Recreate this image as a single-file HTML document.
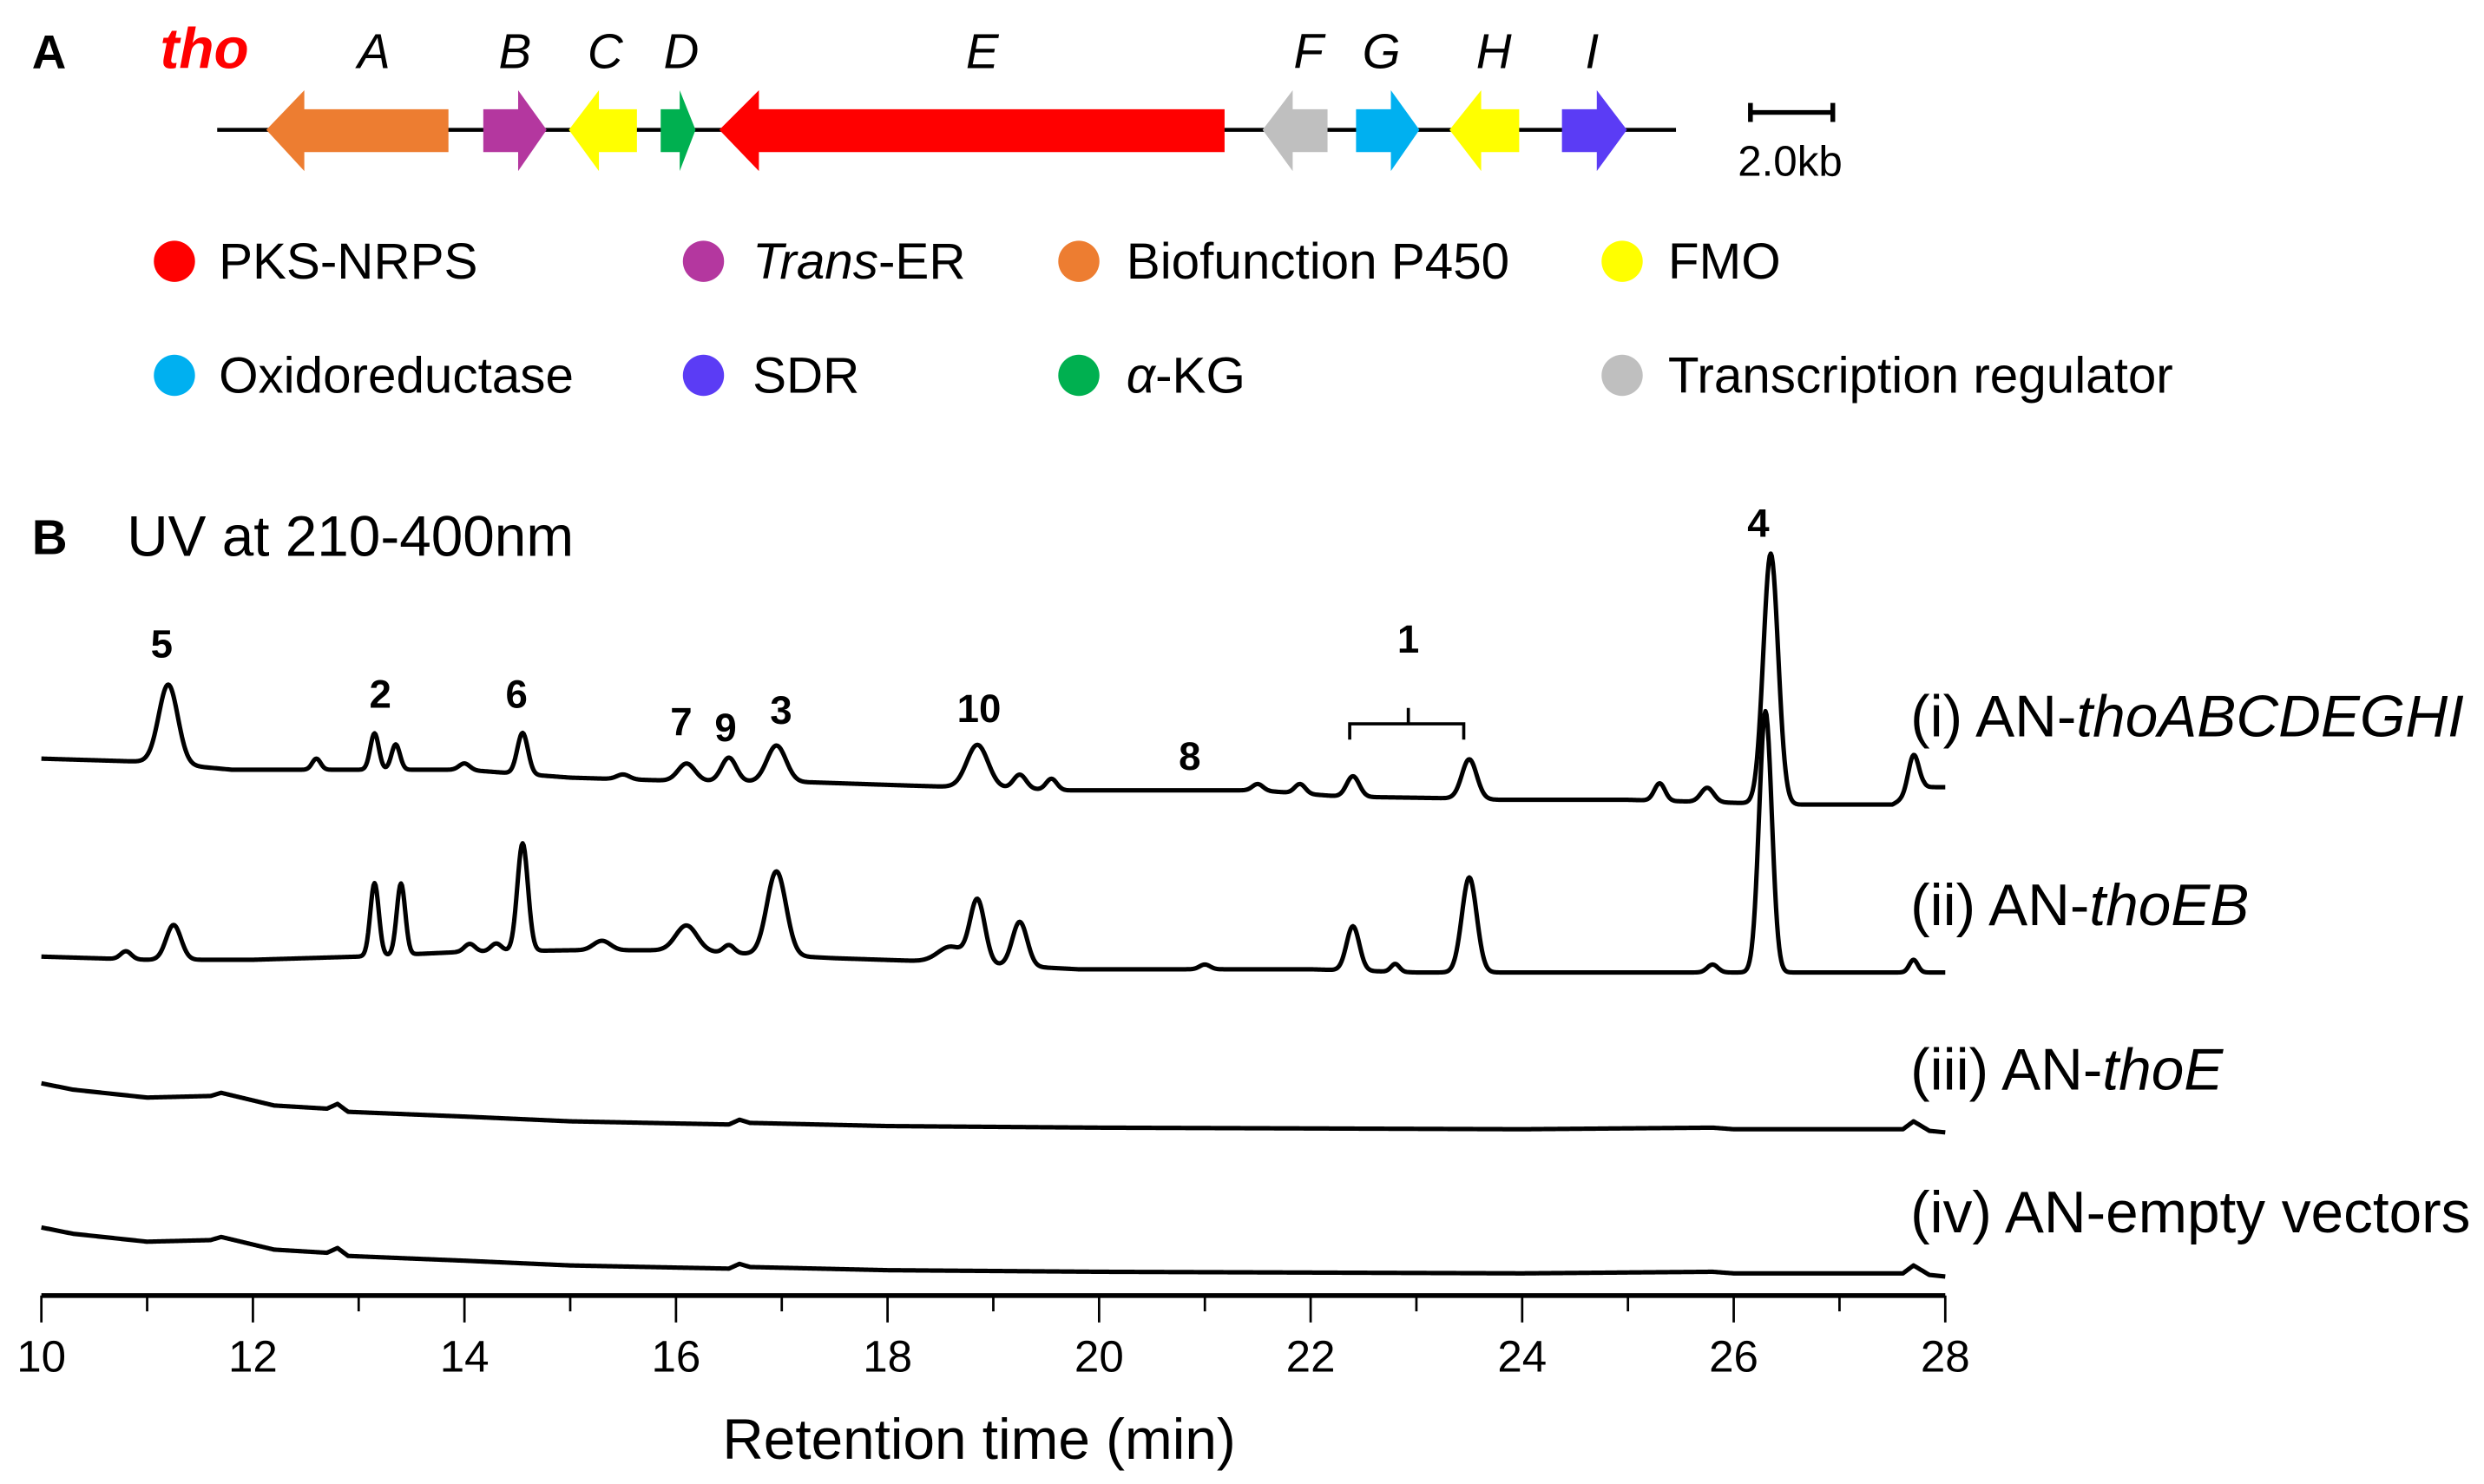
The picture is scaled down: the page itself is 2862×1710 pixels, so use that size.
<!DOCTYPE html>
<html><head><meta charset="utf-8"><style>
html,body{margin:0;padding:0;background:#fff;}
svg{display:block;font-family:"Liberation Sans",Arial,sans-serif;}
</style></head><body>
<svg id="fig" width="2862" height="1710" viewBox="0 0 1568 937" xmlns="http://www.w3.org/2000/svg">
<rect width="1568" height="937" fill="#fff"/>
<g>
<text x="20" y="43" font-size="30" font-weight="bold">A</text>
<text x="101" y="43" font-size="36" font-weight="bold" font-style="italic" fill="#ff0000">tho</text>
<g font-size="31" font-style="italic" text-anchor="middle">
<text x="236" y="43">A</text>
<text x="325" y="43">B</text>
<text x="382" y="43">C</text>
<text x="430" y="43">D</text>
<text x="620" y="43">E</text>
<text x="826" y="43">F</text>
<text x="872" y="43">G</text>
<text x="943" y="43">H</text>
<text x="1005" y="43">I</text>
</g>
<line x1="137" y1="82" x2="1058" y2="82" stroke="#000" stroke-width="2.5"/>
<polygon fill="#ed7d31" points="168,82 192,57 192,69 283,69 283,96 192,96 192,108"/>
<polygon fill="#b4379f" points="305,69 327,69 327,57 345,82 327,108 327,96 305,96"/>
<polygon fill="#ffff00" points="359,82 378,57 378,69 402,69 402,96 378,96 378,108"/>
<polygon fill="#00b050" points="417,69 429,69 429,57 439,82 429,108 429,96 417,96"/>
<polygon fill="#ff0000" points="454,82 479,57 479,69 773,69 773,96 479,96 479,108"/>
<polygon fill="#bfbfbf" points="797,82 816,57 816,69 838,69 838,96 816,96 816,108"/>
<polygon fill="#00b0f0" points="856,69 878,69 878,57 896,82 878,108 878,96 856,96"/>
<polygon fill="#ffff00" points="915,82 935,57 935,69 959,69 959,96 935,96 935,108"/>
<polygon fill="#5b3cf5" points="986,69 1008,69 1008,57 1027,82 1008,108 1008,96 986,96"/>
<g stroke="#000" stroke-width="3">
<line x1="1105" y1="71" x2="1157" y2="71"/><line x1="1105" y1="65" x2="1105" y2="77"/><line x1="1157" y1="65" x2="1157" y2="77"/>
</g>
<text x="1097" y="111" font-size="27">2.0kb</text>
<g font-size="32">
<circle cx="110" cy="165" r="13" fill="#ff0000"/><text x="138" y="176">PKS-NRPS</text>
<circle cx="444" cy="165" r="13" fill="#b4379f"/><text x="475" y="176"><tspan font-style="italic">Trans</tspan>-ER</text>
<circle cx="681" cy="165" r="13" fill="#ed7d31"/><text x="711" y="176">Biofunction  P450</text>
<circle cx="1024" cy="165" r="13" fill="#ffff00"/><text x="1053" y="176">FMO</text>
<circle cx="110" cy="237" r="13" fill="#00b0f0"/><text x="138" y="248">Oxidoreductase</text>
<circle cx="444" cy="237" r="13" fill="#5b3cf5"/><text x="475" y="248">SDR</text>
<circle cx="681" cy="237" r="13" fill="#00b050"/><text x="711" y="248"><tspan font-style="italic">α</tspan>-KG</text>
<circle cx="1024" cy="237" r="13" fill="#bfbfbf"/><text x="1053" y="248">Transcription  regulator</text>
</g>
</g>
<g>
<text x="20" y="350" font-size="31" font-weight="bold">B</text>
<text x="80" y="351" font-size="36">UV at 210-400nm</text>
<g id="traces"></g>
<g id="xaxis"></g>
<text x="618" y="921" font-size="36" text-anchor="middle">Retention time (min)</text>
<g font-size="37">
<text x="1206" y="465">(i) AN-<tspan font-style="italic">thoABCDEGHI</tspan></text>
<text x="1206" y="584">(ii) AN-<tspan font-style="italic">thoEB</tspan></text>
<text x="1206" y="688">(iii) AN-<tspan font-style="italic">thoE</tspan></text>
<text x="1206" y="778">(iv) AN-empty vectors</text>
</g>
<g font-size="25" font-weight="bold" text-anchor="middle">
<text x="102" y="415">5</text>
<text x="240" y="447">2</text>
<text x="326" y="447">6</text>
<text x="430" y="464">7</text>
<text x="458" y="468">9</text>
<text x="493" y="457">3</text>
<text x="618" y="456">10</text>
<text x="751" y="486">8</text>
<text x="889" y="412">1</text>
<text x="1110" y="339">4</text>
</g>
<path d="M852,467 V457 H924 V467 M889,457 V447" fill="none" stroke="#000" stroke-width="2"/>
</g>
</svg>
<script>
// x axis
const xTicks = [10,12,14,16,18,20,22,24,26,28];
const xMinor = [11,13,15,17,19,21,23,25,27];
// trace baselines [time, y-level]
const baseI = [[10,479],[11,481],[11.8,486],[13,486],[14,486],[15,491],[16,493],[17.3,494],[18.2,496],[19.7,499],[21.5,499],[22.3,503],[23.3,504],[23.8,505],[25,505],[26.6,508],[27.5,508],[27.8,497],[28,497]];
const baseII = [[10,604],[11,606],[12,606],[13,604],[14,601],[15,600],[16,600],[17.5,605],[18.4,607],[19.8,612],[22,612],[23,614],[28,614]];
const baseIII = [[10,684],[10.3,688],[11,693],[11.6,692],[11.7,690],[12.2,698],[12.7,700],[12.8,697],[12.9,702],[14,705],[15,708],[16.5,710],[16.6,707],[16.7,709],[18,711],[20,712],[24,713],[25.8,712],[26,713],[27.6,713],[27.7,708],[27.85,714],[28,715]];
const baseIV = [[10,775],[10.3,779],[11,784],[11.6,783],[11.7,781],[12.2,789],[12.7,791],[12.8,788],[12.9,793],[14,796],[15,799],[16.5,801],[16.6,798],[16.7,800],[18,802],[20,803],[24,804],[25.8,803],[26,804],[27.6,804],[27.7,799],[27.85,805],[28,806]];
// peaks: retention time (min)
const peakTimesI = [11.2,12.6,13.15,13.35,14.0,14.55,15.5,16.1,16.5,16.95,18.85,19.25,19.55,21.5,21.9,22.4,23.5,25.3,25.75,26.35,27.7];
const peakHeightsI = [50,7,23,16,4,26,3,11,15,23,27,9,7,4,6,13,25,11,9,158,24];
const peakWidthsI = [0.09,0.04,0.04,0.04,0.05,0.05,0.06,0.08,0.07,0.09,0.1,0.06,0.05,0.05,0.05,0.06,0.07,0.05,0.06,0.07,0.05];
const peakTimesII = [10.8,11.25,13.15,13.4,14.05,14.3,14.55,15.3,16.1,16.5,16.95,18.6,18.85,19.25,21.0,22.4,22.8,23.5,25.8,26.3,27.7];
const peakHeightsII = [5,22,46,45,5,5,68,6,16,5,53,10,40,28,3,28,5,60,5,165,8];
const peakWidthsII = [0.05,0.07,0.04,0.04,0.05,0.05,0.05,0.08,0.1,0.05,0.09,0.12,0.07,0.07,0.05,0.06,0.04,0.07,0.05,0.06,0.04];

const X0=26, X1=1228, T0=10, T1=28, AXY=818;
function xs(t){return X0+(t-T0)*(X1-X0)/(T1-T0);}
function interp(b,t){for(let i=1;i<b.length;i++){if(t<=b[i][0]){const a=b[i-1],c=b[i];return a[1]+(c[1]-a[1])*(t-a[0])/(c[0]-a[0]);}}return b[b.length-1][1];}
const NS='http://www.w3.org/2000/svg';
function mk(tag,attrs,parent){const e=document.createElementNS(NS,tag);for(const k in attrs)e.setAttribute(k,attrs[k]);parent.appendChild(e);return e;}
const tg=document.getElementById('traces');
function trace(name,base,pt,ph,pw){
  let d='';
  for(let t=T0;t<=T1+1e-9;t+=0.01){
    let y=interp(base,t);
    for(let i=0;i<pt.length;i++){const z=(t-pt[i])/pw[i];y-=ph[i]*Math.exp(-0.5*z*z);}
    d+=(d?'L':'M')+xs(t).toFixed(2)+','+y.toFixed(2);
  }
  const p=mk('path',{d:d,fill:'none',stroke:'#000','stroke-width':2.8,'stroke-linejoin':'round'},tg);
  
  
}
trace('trace-i',baseI,peakTimesI,peakHeightsI,peakWidthsI);
trace('trace-ii',baseII,peakTimesII,peakHeightsII,peakWidthsII);
trace('trace-iii',baseIII,[],[],[]);
trace('trace-iv',baseIV,[],[],[]);
const ax=document.getElementById('xaxis');
const al=mk('line',{x1:X0,y1:AXY,x2:X1,y2:AXY,stroke:'#000','stroke-width':3},ax);


xTicks.forEach(v=>{
  const l=mk('line',{x1:xs(v),y1:AXY,x2:xs(v),y2:AXY+17,stroke:'#000','stroke-width':1.5},ax);
  
  
  const t=mk('text',{x:xs(v),y:866,'font-size':28,'text-anchor':'middle'},ax);
  t.textContent=v;
  
  
});
xMinor.forEach(v=>{
  const l=mk('line',{x1:xs(v),y1:AXY,x2:xs(v),y2:AXY+10,stroke:'#000','stroke-width':1.5},ax);
  
  
});
</script>
</body></html>
